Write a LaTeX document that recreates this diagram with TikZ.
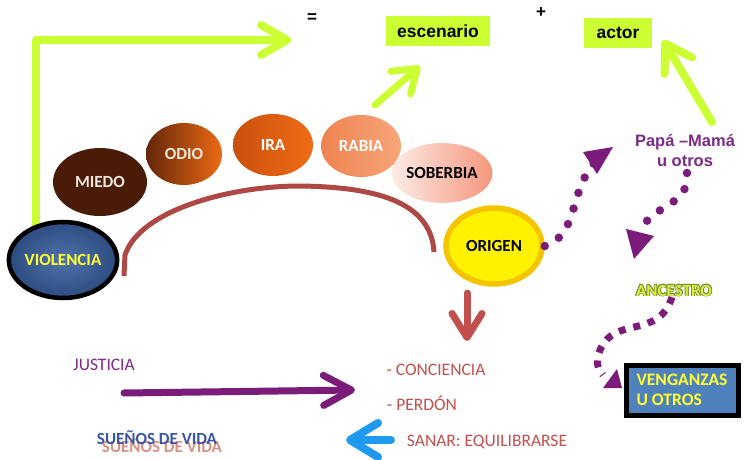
\documentclass[tikz,border=0pt]{standalone}
\usepackage{fontspec}
\setmainfont{Carlito}
\newfontfamily\arialf{Liberation Sans}
\usepackage{contour}
\contourlength{0.7pt}
\usetikzlibrary{shapes.geometric,arrows.meta}
\definecolor{limeG}{HTML}{CCFF33}
\definecolor{purpD}{HTML}{7B1C7B}
\definecolor{purpT}{HTML}{7A2A88}
\definecolor{redA}{HTML}{C0504D}
\definecolor{blueA}{HTML}{1E9AF0}
\definecolor{boxBlue}{HTML}{4F81BD}
\definecolor{ylw}{HTML}{FFFF33}
\definecolor{ancG}{HTML}{D6F040}
\definecolor{ancO}{HTML}{7E8A3A}
\definecolor{sueB}{HTML}{3A55A8}
\definecolor{sueR}{HTML}{D89080}
\tikzset{
  emo/.style={ellipse, inner sep=0pt, font=\bfseries\fontsize{17}{19}\selectfont},
  gbox/.style={fill=limeG, inner sep=0pt, font=\arialf\bfseries\fontsize{17.5}{20}\selectfont},
  garrow/.style={draw=limeG, line width=8pt, line cap=round, line join=round},
  dotp/.style={draw=purpD, line width=8.5pt, line cap=round, dash pattern=on 0pt off 16.5pt},
  sqp/.style={draw=purpD, line width=7pt, dash pattern=on 7pt off 8pt},
  ctext/.style={inner sep=0pt, font=\fontsize{17.5}{20}\selectfont},
}
\begin{document}
\begin{tikzpicture}[x=1pt,y=-1pt]
\useasboundingbox (0,0) rectangle (745,460);

% top lime boxes and signs
\node[gbox, minimum width=104pt, minimum height=30pt] (esc) at (438,31) {escenario};
\node[gbox, minimum width=68pt, minimum height=30pt] (actor) at (618,33) {actor};
\node[inner sep=0pt, font=\arialf\bfseries\fontsize{17}{18}\selectfont] (eq) at (312,18) {=};
\node[inner sep=0pt, font=\arialf\bfseries\fontsize{17}{18}\selectfont] (plus) at (541,13) {+};

% big lime arrow from VIOLENCIA
\coordinate (vstart) at (36,228);
\coordinate (gtop) at (291,40);
\draw[garrow, -{Straight Barb[length=26pt,width=30pt,round]}] (vstart) |- (gtop);

% red arch
\coordinate (archA) at (124,276);
\coordinate (archB) at (434,252);
\draw[draw=redA!90!black, line width=5pt] (archA) -- (125,255) .. controls (140,210) and (230,186) .. (300,186) .. controls (372,187) and (431,200) .. (archB);

% emotion ellipses
\node[emo, fill={rgb,255:red,74;green,28;blue,8}, text={rgb,255:red,242;green,230;blue,220}, minimum width=94pt, minimum height=68pt] (miedo) at (100,182) {MIEDO};
\node[emo, left color={rgb,255:red,100;green,38;blue,8}, right color={rgb,255:red,236;green,106;blue,20}, text={rgb,255:red,245;green,232;blue,220}, minimum width=76pt, minimum height=62pt] (odio) at (184,154) {ODIO};
\node[emo, left color={rgb,255:red,200;green,80;blue,12}, right color={rgb,255:red,240;green,108;blue,22}, text=white, minimum width=80pt, minimum height=62pt] (ira) at (273,145) {IRA};
\node[emo, left color={rgb,255:red,238;green,132;blue,82}, right color={rgb,255:red,247;green,165;blue,120}, text=white, minimum width=80pt, minimum height=62pt] (rabia) at (361,146) {RABIA};
\node[emo, left color={rgb,255:red,253;green,236;blue,230}, right color={rgb,255:red,245;green,150;blue,125}, text=black, minimum width=80pt, minimum height=60pt] (soberbia) at (442,173) {SOBERBIA};

% arrow to escenario
\coordinate (escS) at (375,105);
\coordinate (escT) at (420,66);
\draw[garrow, line width=7pt, -{Straight Barb[length=22pt,width=30pt,round]}] (escS) -- (escT);

% arrow to actor
\coordinate (actS) at (712,122);
\coordinate (actT) at (663,40);
\draw[garrow, -{Straight Barb[length=26pt,width=32pt,round]}] (actS) -- (actT);

% VIOLENCIA
\node[emo, draw=black, line width=4.5pt, inner color={rgb,255:red,80;green,115;blue,170}, outer color={rgb,255:red,44;green,76;blue,128}, text=ylw, minimum width=98pt, minimum height=76pt] (violencia) at (63,260) {VIOLENCIA};

% ORIGEN
\node[emo, draw={rgb,255:red,245;green,196;blue,0}, line width=5.5pt, fill={rgb,255:red,255;green,242;blue,0}, text=black, minimum width=96pt, minimum height=76pt] (origen) at (494,246) {ORIGEN};

% Papa - Mama
\node[inner sep=0pt, align=center, text=purpT, font=\arialf\bfseries\fontsize{16.5}{20}\selectfont] (papa) at (685,151) {Papá –Mamá\\u otros};

% ANCESTRO
\node[inner sep=0pt, font=\bfseries\fontsize{17}{19}\selectfont, text=ancG] (ancestro) at (674,291) {\contour{ancO}{ANCESTRO}};

% VENGANZAS box
\node[draw=black, line width=5pt, fill=boxBlue, text=ylw, align=left, font=\bfseries\fontsize{17.5}{20}\selectfont, minimum width=112pt, minimum height=50pt, inner sep=4pt] (veng) at (682,390) {VENGANZAS\\U OTROS};

% dotted purple arrows
\coordinate (ppA) at (613,147);
\draw[dotp] (origen.east) .. controls (580,235) and (568,188) .. (598,159);
\fill[purpD] (ppA) -- (583,152) -- (597,174) -- cycle;

\coordinate (ppB) at (634,259);
\draw[dotp] (687,173) .. controls (690,208) and (648,205) .. (641,232);
\fill[purpD] (ppB) -- (626,229) -- (654,236) -- cycle;

\coordinate (ppC) at (622,388);
\draw[sqp] (ancestro.south -| 672,302) .. controls (658,340) and (615,315) .. (600,350) .. controls (595,362) and (598,370) .. (603,375);
\fill[purpD] (ppC) -- (603,388) -- (617,369) -- cycle;

% red down arrow
\coordinate (rdS) at (467,293);
\coordinate (rdT) at (467,341);
\draw[draw=redA, line width=7pt, line cap=round, -{Straight Barb[length=24pt,width=30pt,round]}] (rdS) -- (rdT);

% texts bottom
\node[ctext, text=redA] (conc) at (436,370) {- CONCIENCIA};
\node[ctext, text=redA] (perd) at (422,403) {- PERDÓN};
\node[ctext, text=redA] (sanar) at (487,442) {SANAR:\ EQUILIBRARSE};
\node[ctext, text={rgb,255:red,128;green,40;blue,136}] (just) at (104,365) {JUSTICIA};

% justicia arrow
\coordinate (jS) at (124,393);
\coordinate (jT) at (355,390);
\draw[draw=purpD, line width=7pt, line cap=round, -{Straight Barb[length=28pt,width=30pt,round]}] (jS) -- (jT);

% blue arrow
\coordinate (bS) at (391,440);
\coordinate (bT) at (346,440);
\draw[draw=blueA, line width=8pt, line cap=round, -{Straight Barb[length=28pt,width=34pt,round]}] (bS) -- (bT);

% suenos de vida with reflection
\node[ctext, text=sueR, font=\bfseries\fontsize{17}{20}\selectfont] (suenosR) at (162,446) {SUEÑOS DE VIDA};
\node[ctext, text=sueB, font=\bfseries\fontsize{17}{20}\selectfont] (suenos) at (157,438) {SUEÑOS DE VIDA};
\end{tikzpicture}
\end{document}
